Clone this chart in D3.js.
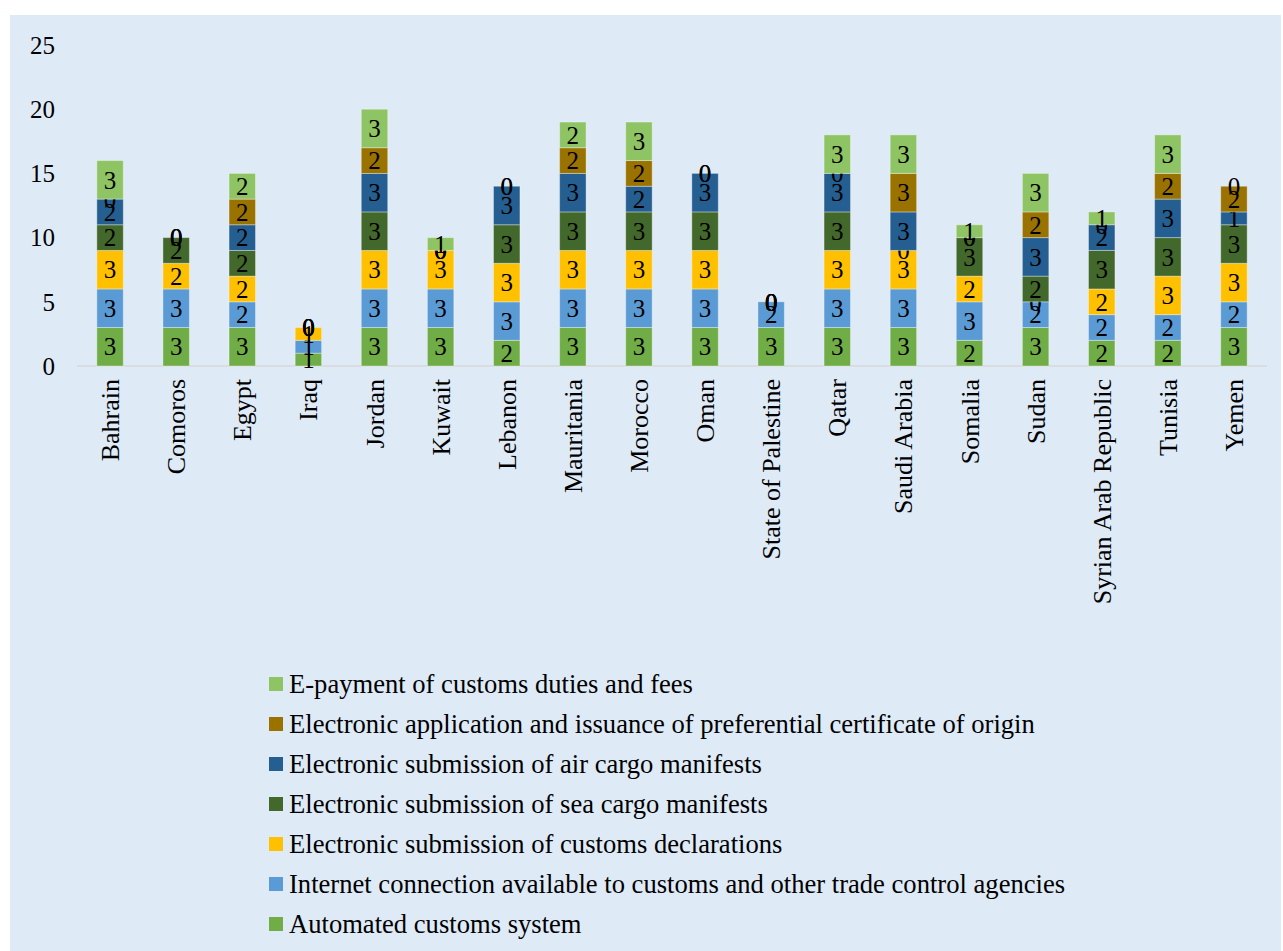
<script src="https://cdn.jsdelivr.net/npm/d3@7"></script>
<style>
    body { margin: 0; background: #fff; }
    svg text { font-family: 'Liberation Serif', 'DejaVu Serif', serif; fill: #000; }
</style>
<svg width="1283" height="951" font-family="Liberation Serif, DejaVu Serif, serif"></svg>
<script>
    // countries on the x axis
    var countries = ["Bahrain", "Comoros", "Egypt", "Iraq", "Jordan", "Kuwait", "Lebanon",
        "Mauritania", "Morocco", "Oman", "State of Palestine", "Qatar", "Saudi Arabia",
        "Somalia", "Sudan", "Syrian Arab Republic", "Tunisia", "Yemen"];

    // one array per series, same order as countries
    var automated   = [3, 3, 3, 1, 3, 3, 2, 3, 3, 3, 3, 3, 3, 2, 3, 2, 2, 3];
    var internet    = [3, 3, 2, 1, 3, 3, 3, 3, 3, 3, 2, 3, 3, 3, 2, 2, 2, 2];
    var declaration = [3, 2, 2, 1, 3, 3, 3, 3, 3, 3, 0, 3, 3, 2, 0, 2, 3, 3];
    var seaCargo    = [2, 2, 2, 0, 3, 0, 3, 3, 3, 3, 0, 3, 0, 3, 2, 3, 3, 3];
    var airCargo    = [2, 0, 2, 0, 3, 0, 3, 3, 2, 3, 0, 3, 3, 0, 3, 2, 3, 1];
    var certOrigin  = [0, 0, 2, 0, 2, 0, 0, 2, 2, 0, 0, 0, 3, 0, 2, 0, 2, 2];
    var ePayment    = [3, 0, 2, 0, 3, 1, 0, 2, 3, 0, 0, 3, 3, 1, 3, 1, 3, 0];

    var yTicks = [0, 5, 10, 15, 20, 25];

    var series = [
        {key: "Automated customs system", values: automated, color: "#70AD47"},
        {key: "Internet connection available to customs and other trade control agencies", values: internet, color: "#5B9BD5"},
        {key: "Electronic submission of customs declarations", values: declaration, color: "#FFC000"},
        {key: "Electronic submission of sea cargo manifests", values: seaCargo, color: "#43682B"},
        {key: "Electronic submission of air cargo manifests", values: airCargo, color: "#255E91"},
        {key: "Electronic application and issuance of preferential certificate of origin", values: certOrigin, color: "#9A7200"},
        {key: "E-payment of customs duties and fees", values: ePayment, color: "#8FC464"}
    ];

    var font = "Liberation Serif, DejaVu Serif, serif";
    var svg = d3.select("svg");

    // panel background
    svg.append("rect")
        .attr("x", 10).attr("y", 15)
        .attr("width", 1271).attr("height", 936)
        .attr("fill", "#DEEAF6");

    var margin = {top: 45, left: 77},
        width = 1190,
        height = 321,
        g = svg.append("g").attr("transform", "translate(" + margin.left + "," + margin.top + ")");

    var x = d3.scaleBand()
        .domain(countries)
        .range([0, width])
        .paddingInner(0.6)
        .paddingOuter(0.3);

    var y = d3.scaleLinear()
        .domain([0, 25])
        .range([height, 0]);

    // build table for d3.stack
    var table = countries.map(function(c, i) {
        var row = {country: c};
        series.forEach(function(s) { row[s.key] = s.values[i]; });
        return row;
    });
    var stacked = d3.stack().keys(series.map(function(s) { return s.key; }))(table);

    // x axis line
    g.append("line")
        .attr("x1", 0).attr("x2", width)
        .attr("y1", y(0)).attr("y2", y(0))
        .attr("stroke", "#D9D9D9")
        .attr("stroke-width", 1.5);

    // y tick labels
    g.append("g")
        .selectAll("text")
        .data(yTicks)
        .enter().append("text")
        .attr("x", -22)
        .attr("y", function(d) { return y(d); })
        .attr("dy", "0.35em")
        .attr("text-anchor", "end")
        .attr("font-family", font)
        .attr("font-size", 25)
        .text(function(d) { return d; });

    // bars
    var layer = g.append("g")
        .selectAll("g")
        .data(stacked)
        .enter().append("g")
        .attr("fill", function(d, i) { return series[i].color; });

    layer.selectAll("rect")
        .data(function(d) { return d; })
        .enter().append("rect")
        .attr("x", function(d) { return x(d.data.country); })
        .attr("y", function(d) { return y(d[1]); })
        .attr("width", x.bandwidth())
        .attr("height", function(d) { return y(d[0]) - y(d[1]); })
        .attr("stroke", "rgba(255,255,255,0.35)")
        .attr("stroke-width", 1);

    // value labels (zeros too, like Excel)
    layer.selectAll("text")
        .data(function(d) { return d; })
        .enter().append("text")
        .attr("x", function(d) { return x(d.data.country) + x.bandwidth() / 2; })
        .attr("y", function(d) { return y((d[0] + d[1]) / 2); })
        .attr("dy", "0.35em")
        .attr("text-anchor", "middle")
        .attr("font-family", font)
        .attr("font-size", 25)
        .attr("fill", "#000")
        .text(function(d) { return d[1] - d[0]; });

    // category labels, rotated
    g.append("g")
        .selectAll("text")
        .data(countries)
        .enter().append("text")
        .attr("transform", function(d) {
            return "translate(" + (x(d) + x.bandwidth() / 2) + "," + (y(0) + 13) + ") rotate(-90)";
        })
        .attr("dy", "0.35em")
        .attr("text-anchor", "end")
        .attr("font-family", font)
        .attr("font-size", 26)
        .text(function(d) { return d; });

    // legend, reversed order
    var legend = svg.append("g")
        .selectAll("g")
        .data(series.slice().reverse())
        .enter().append("g")
        .attr("transform", function(d, i) { return "translate(269," + (684 + i * 40) + ")"; });

    legend.append("rect")
        .attr("x", 0).attr("y", -7)
        .attr("width", 14).attr("height", 14)
        .attr("fill", function(d) { return d.color; });

    legend.append("text")
        .attr("x", 20)
        .attr("dy", "0.35em")
        .attr("font-family", font)
        .attr("font-size", 26.6)
        .text(function(d) { return d.key; });
</script>
